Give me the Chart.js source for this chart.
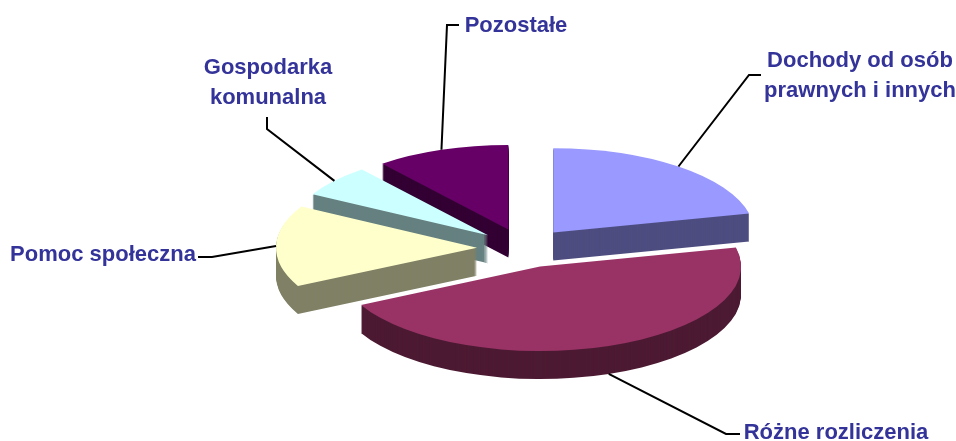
<!DOCTYPE html>
<html>
<head>
<meta charset="utf-8">
<title>Dochody</title>
<script src="https://cdn.jsdelivr.net/npm/chart.js@4"></script>
<style>
  html, body { margin: 0; padding: 0; background: #fff; }
  canvas { display: block; }
</style>
</head>
<body>
<canvas id="chart" width="956" height="441"></canvas>
<script>
// data, angles
let categories = [
  ["Dochody od osób", "prawnych i innych"],
  "Różne rozliczenia",
  "Pomoc społeczna",
  ["Gospodarka", "komunalna"],
  "Pozostałe"
];
let shares = [21.4, 46.1, 15.6, 6.1, 10.8];

let topColors = ["#9999ff", "#993366", "#ffffcc", "#ccffff", "#660066"];
let sideColors = ["#4d4d80", "#4d1a33", "#808066", "#668080", "#330033"];

// label text: centre x and first baseline, then the elbow of the leader line
let labelSpots = [[860, 67], [836, 439], [103, 261], [268, 74], [516, 32]];
let leaderBends = [
  [[749, 75], [761, 75]],
  [[726, 434], [740, 434]],
  [[212, 257], [198, 257]],
  [[267, 129], [267, 117]],
  [[447, 25], [459, 25]]
];

let squash = 0.42;   // vertical tilt of the pie
let depth = 28;      // thickness of the pie in px
let explode = 47;    // how far each slice is pulled out

// move the ctx so that the slice is tilted and pulled out, lifted by dy
function placeSlice(ctx, arc, dy) {
  let mid = (arc.startAngle + arc.endAngle) / 2;
  ctx.translate(arc.x + Math.cos(mid) * explode, arc.y + Math.sin(mid) * explode * squash + dy);
  ctx.scale(1, squash);
  ctx.translate(-arc.x, -arc.y);
}

function drawSlice(ctx, arc, color, dy) {
  let saved = arc.options;
  arc.options = Object.assign({}, saved, { backgroundColor: color, borderWidth: 0 });
  ctx.save();
  placeSlice(ctx, arc, dy);
  arc.draw(ctx);
  ctx.restore();
  arc.options = saved;
}

// point on the rim at the middle of the slice
function rimPoint(arc) {
  let mid = (arc.startAngle + arc.endAngle) / 2;
  let s = Math.sin(mid);
  let y = arc.y + s * (explode + arc.outerRadius) * squash;
  return [arc.x + Math.cos(mid) * (explode + arc.outerRadius), s > 0 ? y + depth : y];
}

let pie3d = {
  id: "pie3d",
  beforeDatasetsDraw(chart) {
    let ctx = chart.ctx;
    let arcs = chart.getDatasetMeta(0).data;

    // back slices first
    let order = arcs.map((a, i) => i).sort((a, b) => {
      return Math.sin((arcs[a].startAngle + arcs[a].endAngle) / 2) - Math.sin((arcs[b].startAngle + arcs[b].endAngle) / 2);
    });
    order.forEach(i => {
      for (let d = depth; d > 0; d--) {
        drawSlice(ctx, arcs[i], sideColors[i], d);
      }
      drawSlice(ctx, arcs[i], topColors[i], 0);
    });

    // leader lines
    ctx.save();
    ctx.strokeStyle = "#000";
    ctx.lineWidth = 2;
    arcs.forEach((arc, i) => {
      let start = rimPoint(arc);
      ctx.beginPath();
      ctx.moveTo(start[0], start[1]);
      leaderBends[i].forEach(p => ctx.lineTo(p[0], p[1]));
      ctx.stroke();
    });

    // labels
    ctx.fillStyle = "#333399";
    ctx.font = "bold 22px 'Liberation Sans', Arial, sans-serif";
    ctx.textAlign = "center";
    ctx.textBaseline = "alphabetic";
    categories.forEach((label, i) => {
      let lines = Array.isArray(label) ? label : [label];
      lines.forEach((line, n) => {
        ctx.fillText(line, labelSpots[i][0], labelSpots[i][1] + n * 30);
      });
    });
    ctx.restore();
    return false;
  }
};

new Chart(document.getElementById("chart").getContext("2d"), {
  type: "pie",
  data: {
    labels: categories,
    datasets: [{
      data: shares,
      backgroundColor: topColors,
      borderWidth: 0
    }]
  },
  options: {
    responsive: false,
    animation: false,
    radius: 201,
    layout: { padding: { left: 92, top: 55 } },
    plugins: {
      legend: { display: false },
      tooltip: { enabled: false }
    }
  },
  plugins: [pie3d]
});
</script>
</body>
</html>
